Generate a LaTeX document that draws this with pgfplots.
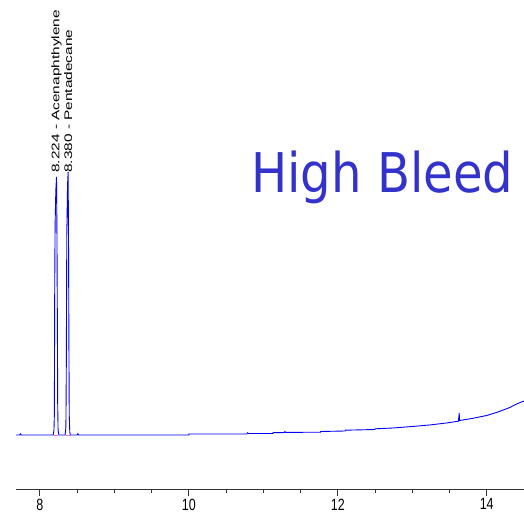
\documentclass[border=0pt]{standalone}
\usepackage{pgfplots}
\pgfplotsset{compat=1.18}
\usepackage{fontspec}
\setmainfont{Liberation Sans}
\newfontfamily\titlefont{DejaVu Sans}
\definecolor{trace}{HTML}{0000FF}
\definecolor{bleed}{HTML}{3333CC}
\definecolor{integ}{HTML}{FF66CC}

\begin{document}
\begin{tikzpicture}
\begin{axis}[
  scale only axis, width=508pt, height=489pt,
  xmin=7.68, xmax=14.5, ymin=-54, ymax=435,
  axis x line=bottom, axis y line=none,
  x axis line style={-, draw=black!80, line width=0.8pt},
  xtick={8,10,12,14},
  xticklabels={\scalebox{1}[1.3]{8},\scalebox{1}[1.3]{10},\scalebox{1}[1.3]{12},\scalebox{1}[1.3]{14}},
  minor x tick num=3,
  xtick align=outside,
  major tick length=7pt, minor tick length=3.5pt,
  tick style={black!80, line width=0.8pt},
  xticklabel style={font=\fontsize{12.5}{13}\selectfont, inner sep=1pt, yshift=-1.5pt},
  clip=false,
]
% baseline with the rising bleed
\addplot[trace, line width=0.9pt] coordinates {
  (7.68,0) (7.73,0) (7.74,1.2) (7.75,0) (8.17,0)
  (8.180,0) (8.190,5) (8.195,20) (8.200,150) (8.205,210) (8.215,245) (8.224,258)
  (8.230,200) (8.235,120) (8.240,30) (8.245,5) (8.255,0)
  (8.340,0) (8.350,8) (8.355,60) (8.362,200) (8.372,250) (8.380,263)
  (8.385,200) (8.390,100) (8.395,20) (8.402,3) (8.410,0)
  (8.50,0) (8.51,1.2) (8.52,0) (10.0,0) (10.0,1) (10.78,1) (10.79,2.2) (10.80,1.5)
  (11.13,1.5) (11.13,2.3) (11.28,2.3) (11.29,3.5) (11.30,2.6) (11.77,2.8) (11.77,3.5)
  (12.1,4) (12.1,4.8) (12.5,5.5) (12.5,6.2) (12.74,7) (13.0,8.5) (13.23,10)
  (13.46,12) (13.62,13.8) (13.63,22) (13.635,14.5) (13.8,16.5) (14.0,19.5)
  (14.15,23) (14.31,27.5) (14.4,31) (14.5,34)
};
% integration marks
\addplot[integ, line width=0.8pt] coordinates {(8.19,0) (8.245,0)};
\addplot[integ, line width=0.8pt] coordinates {(8.35,0) (8.40,0)};

\node[rotate=90, anchor=west, inner sep=0pt, font=\fontsize{11}{12}\selectfont]
  at (axis cs:8.224,262) {\scalebox{1.4}[1]{8.224 - Acenaphthylene}};
\node[rotate=90, anchor=west, inner sep=0pt, font=\fontsize{11}{12}\selectfont]
  at (axis cs:8.380,262) {\scalebox{1.4}[1]{8.380 - Pentadecane}};
\node[anchor=base west, inner sep=0pt, text=bleed, font=\titlefont\fontsize{47.2}{50}\selectfont]
  at (axis cs:10.835,242) {\scalebox{1.02}[1.16]{High Bleed}};

\draw[black!25, line width=0.8pt] (rel axis cs:0,0) ++(0,-25pt) -- ++(508pt,0);
\coordinate (BL) at (rel axis cs:0,0);
\coordinate (TR) at (rel axis cs:1,1);
\end{axis}
\pgfresetboundingbox
\path (BL) ++(-16pt,-27pt) rectangle (TR);
\end{tikzpicture}
\end{document}
